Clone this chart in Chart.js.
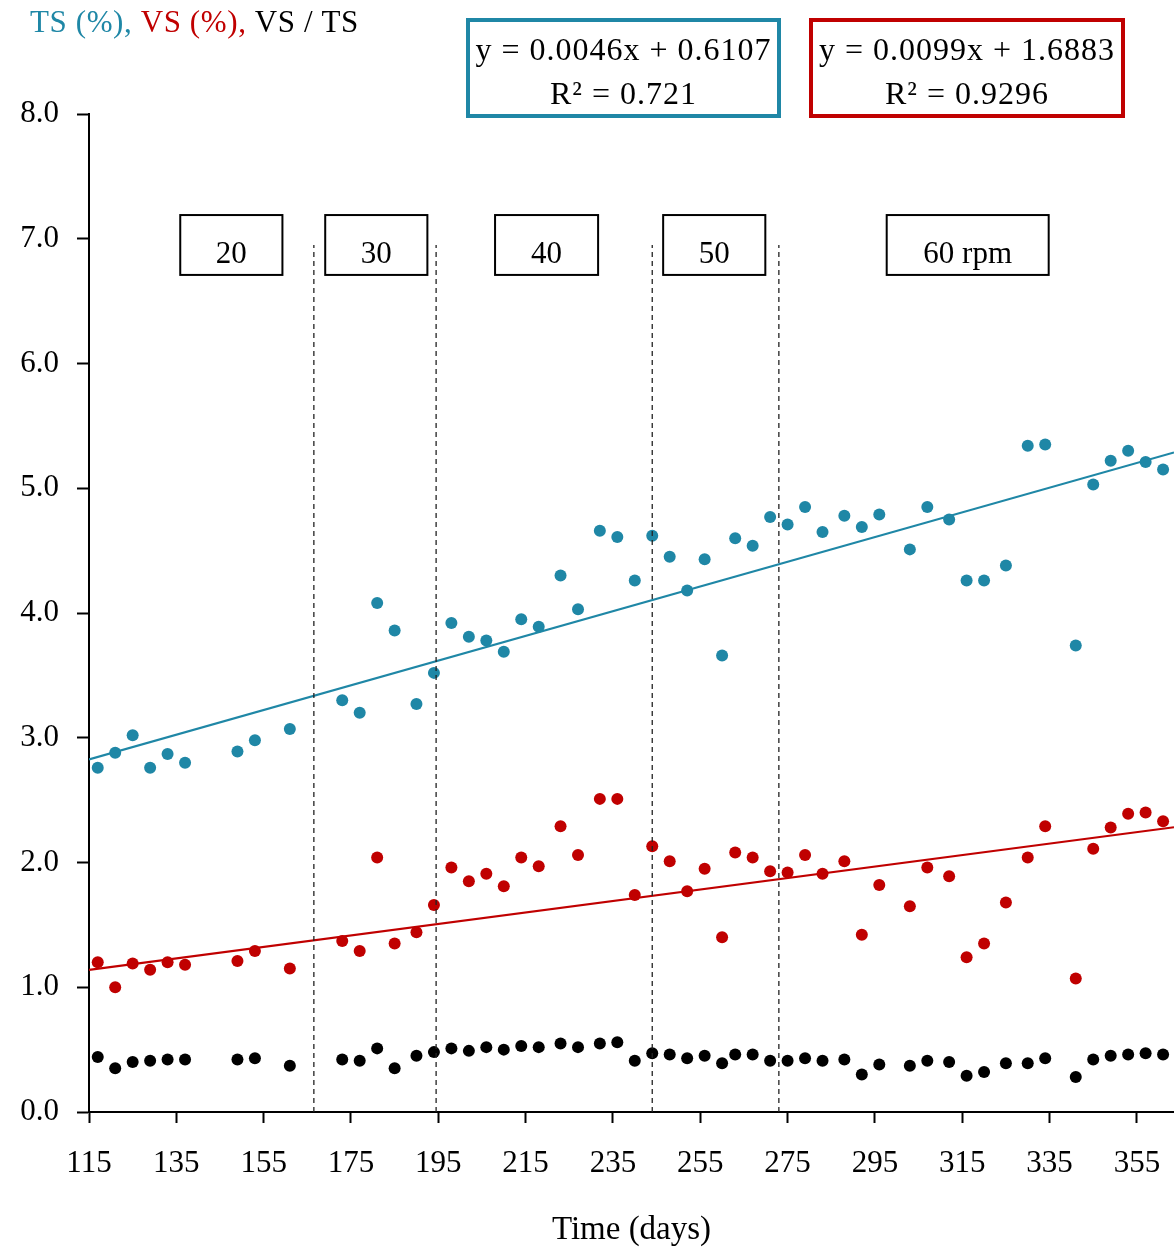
<!DOCTYPE html>
<html>
<head>
<meta charset="utf-8">
<script src="https://cdn.jsdelivr.net/npm/chart.js@4.4.1/dist/chart.umd.min.js"></script>
<style>
  html, body { margin: 0; padding: 0; background: #fff; }
  canvas { display: block; }
</style>
</head>
<body>
<canvas id="chart" width="1174" height="1250"></canvas>
<script>
// Sampling days of the digester run
const days = [117,121,125,129,133,137,149,153,161,173,177,181,185,190,194,198,202,206,210,214,218,223,227,232,236,240,
  244,248,252,256,260,263,267,271,275,279,283,288,292,296,303,307,312,316,320,325,330,334,341,345,349,353,357,361];

// Total solids (%)
const tsPct = [2.76,2.88,3.02,2.76,2.87,2.80,2.89,2.98,3.07,3.30,3.20,4.08,3.86,3.27,3.52,3.92,3.81,3.78,3.69,3.95,3.89,4.30,4.03,4.66,4.61,4.26,
  4.62,4.45,4.18,4.43,3.66,4.60,4.54,4.77,4.71,4.85,4.65,4.78,4.69,4.79,4.51,4.85,4.75,4.26,4.26,4.38,5.34,5.35,3.74,5.03,5.22,5.30,5.21,5.15];

// Volatile solids (%)
const vsPct = [1.20,1.00,1.19,1.14,1.20,1.18,1.21,1.29,1.15,1.37,1.29,2.04,1.35,1.44,1.66,1.96,1.85,1.91,1.81,2.04,1.97,2.29,2.06,2.51,2.51,1.74,
  2.13,2.01,1.77,1.95,1.40,2.08,2.04,1.93,1.92,2.06,1.91,2.01,1.42,1.82,1.65,1.96,1.89,1.24,1.35,1.68,2.04,2.29,1.07,2.11,2.28,2.39,2.40,2.33];

// VS / TS ratio
const vsTsRatio = [0.44,0.35,0.40,0.41,0.42,0.42,0.42,0.43,0.37,0.42,0.41,0.51,0.35,0.45,0.48,0.51,0.49,0.52,0.50,0.53,0.52,0.55,0.52,0.55,0.56,0.41,
  0.47,0.46,0.43,0.45,0.39,0.46,0.46,0.41,0.41,0.43,0.41,0.42,0.30,0.38,0.37,0.41,0.40,0.29,0.32,0.39,0.39,0.43,0.28,0.42,0.45,0.46,0.47,0.46];

// Axis ticks
const xTicks = [115,135,155,175,195,215,235,255,275,295,315,335,355];
const yTicks = [0,1,2,3,4,5,6,7,8];
const xRange = [115, 363.5];

// Linear fits
const tsFit = { slope: 0.0099, intercept: 1.6883, r2: '0.9296' };
const vsFit = { slope: 0.0046, intercept: 0.6107, r2: '0.721' };

// Mixing speed steps
const speedChangeDays = [166.5, 194.5, 244, 273];
const speedLabels = ['20', '30', '40', '50', '60 rpm'];

const BLUE = '#1f87a6';
const RED = '#c00000';
const SERIF = '"Liberation Serif", "Times New Roman", serif';

const pts = (ys) => days.map((d, i) => ({ x: d, y: ys[i] }));
const fitLine = (f) => xRange.map(x => ({ x, y: f.intercept + f.slope * x }));
const fmtFit = (f) => 'y = ' + f.slope + 'x + ' + f.intercept;

const speedLines = speedChangeDays.map(d => ({
  type: 'line',
  data: [{ x: d, y: 0 }, { x: d, y: 6.95 }],
  borderColor: '#222',
  borderWidth: 1.3,
  borderDash: [5, 4],
  pointRadius: 0,
  order: 0
}));

const annotations = {
  id: 'annotations',
  afterDraw(chart, args, opts) {
    const ctx = chart.ctx;
    const xs = chart.scales.x, ys = chart.scales.y;
    ctx.save();

    // series key at top left
    ctx.font = '31px ' + SERIF;
    ctx.letterSpacing = '0.6px';
    ctx.textBaseline = 'middle';
    ctx.textAlign = 'left';
    let tx = 30;
    [['TS (%), ', BLUE], ['VS (%), ', RED], ['VS / TS', '#000']].forEach(([t, c]) => {
      ctx.fillStyle = c;
      ctx.fillText(t, tx, 24);
      tx += ctx.measureText(t).width;
    });

    // fit equation boxes
    opts.fitBoxes.forEach(b => {
      ctx.strokeStyle = b.color;
      ctx.lineWidth = 4;
      ctx.strokeRect(b.left + 2, b.top + 2, b.width - 4, b.height - 4);
      ctx.fillStyle = '#000';
      ctx.textAlign = 'center';
      ctx.font = '32px ' + SERIF;
      ctx.letterSpacing = '1px';
      const cx = b.left + b.width / 2;
      ctx.fillText(fmtFit(b.fit), cx, b.top + 34);
      ctx.fillText('R\u00B2 = ' + b.fit.r2, cx, b.top + 78);
    });

    // speed labels
    ctx.letterSpacing = '0px';
    ctx.lineWidth = 2;
    ctx.strokeStyle = '#000';
    opts.speedBoxes.forEach((s, i) => {
      const l = xs.getPixelForValue(s.from), r = xs.getPixelForValue(s.to);
      const t = ys.getPixelForValue(s.top), bt = ys.getPixelForValue(s.bottom);
      ctx.strokeRect(l, t, r - l, bt - t);
      ctx.fillStyle = '#000';
      ctx.textAlign = 'center';
      ctx.font = '31px ' + SERIF;
      ctx.fillText(speedLabels[i], (l + r) / 2, (t + bt) / 2 + 10);
    });
    ctx.restore();
  }
};

new Chart(document.getElementById('chart'), {
  type: 'scatter',
  data: {
    datasets: [
      ...speedLines,
      { type: 'line', data: fitLine(tsFit), borderColor: BLUE, borderWidth: 2.2, pointRadius: 0, order: 1 },
      { type: 'line', data: fitLine(vsFit), borderColor: RED, borderWidth: 2.2, pointRadius: 0, order: 1 },
      { label: 'TS (%)', data: pts(tsPct), backgroundColor: BLUE, borderWidth: 0, pointRadius: 6, order: 2 },
      { label: 'VS (%)', data: pts(vsPct), backgroundColor: RED, borderWidth: 0, pointRadius: 6, order: 2 },
      { label: 'VS / TS', data: pts(vsTsRatio), backgroundColor: '#000', borderWidth: 0, pointRadius: 6, order: 2 }
    ]
  },
  options: {
    responsive: false,
    devicePixelRatio: 1,
    animation: false,
    events: [],
    layout: { autoPadding: false, padding: { top: 114, right: 0, left: 0, bottom: 0 } },
    plugins: {
      legend: { display: false },
      tooltip: { enabled: false },
      annotations: {
        fitBoxes: [
          { left: 466, top: 18, width: 315, height: 100, color: BLUE, fit: vsFit },
          { left: 809, top: 18, width: 316, height: 100, color: RED, fit: tsFit }
        ],
        speedBoxes: [
          { from: 135.9, to: 159.3, top: 7.19, bottom: 6.71 },
          { from: 169.1, to: 192.5, top: 7.19, bottom: 6.71 },
          { from: 208.0, to: 231.6, top: 7.19, bottom: 6.71 },
          { from: 246.5, to: 269.9, top: 7.19, bottom: 6.71 },
          { from: 297.7, to: 334.8, top: 7.19, bottom: 6.71 }
        ]
      }
    },
    scales: {
      x: {
        type: 'linear',
        min: xRange[0],
        max: xRange[1],
        afterBuildTicks: s => { s.ticks = xTicks.map(v => ({ value: v })); },
        afterFit: s => { s.height = 138; s.paddingLeft = 0; s.paddingRight = 0; },
        ticks: {
          autoSkip: false, maxRotation: 0, padding: 22,
          color: '#000', font: { family: SERIF, size: 31 },
          callback: v => String(v)
        },
        grid: { drawOnChartArea: false, drawTicks: true, tickLength: 11, tickWidth: 2, tickColor: '#000' },
        border: { display: true, color: '#000', width: 2 },
        title: {
          display: true, text: 'Time (days)', color: '#000',
          font: { family: SERIF, size: 33 }, padding: { top: 0, bottom: 0 }
        }
      },
      y: {
        type: 'linear',
        min: 0,
        max: 8,
        afterBuildTicks: s => { s.ticks = yTicks.map(v => ({ value: v })); },
        afterFit: s => { s.width = 89; s.paddingTop = 0; s.paddingBottom = 0; },
        ticks: {
          padding: 18, color: '#000', font: { family: SERIF, size: 31 },
          callback: v => Number(v).toFixed(1)
        },
        grid: { drawOnChartArea: false, drawTicks: true, tickLength: 12, tickWidth: 2, tickColor: '#000' },
        border: { display: true, color: '#000', width: 2 }
      }
    }
  },
  plugins: [annotations]
});
</script>
</body>
</html>
